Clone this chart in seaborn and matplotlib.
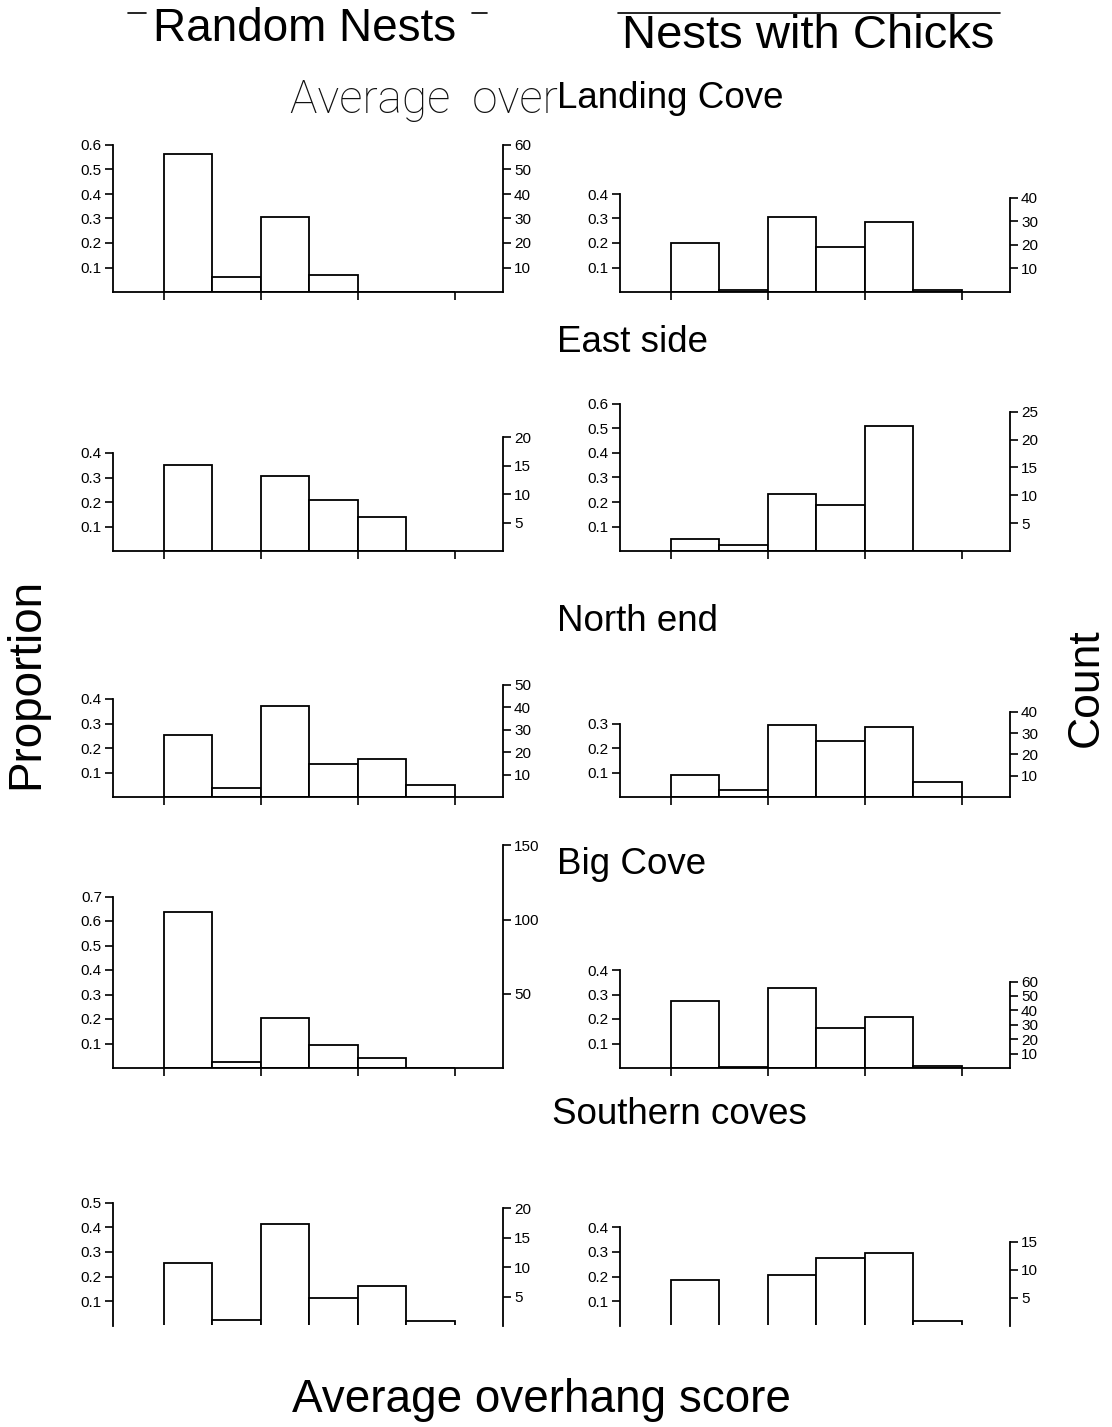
import numpy as np
import pandas as pd
import seaborn as sns
import matplotlib
matplotlib.use("Agg")
import matplotlib.pyplot as plt
from matplotlib.lines import Line2D

# overhang score classes (6 bins, ticks every 2 bins, unlabelled)
score_bins = ["1", "2", "3", "4", "5", "6"]

regions = ["Landing Cove", "East side", "North end", "Big Cove", "Southern coves"]

# proportions
landing_random = [0.565, 0.06, 0.305, 0.07, 0.0, 0.0]
landing_chicks = [0.20, 0.01, 0.305, 0.185, 0.285, 0.01]
east_random = [0.35, 0.0, 0.305, 0.21, 0.14, 0.0]
east_chicks = [0.047, 0.023, 0.233, 0.186, 0.51, 0.0]
north_random = [0.255, 0.035, 0.37, 0.135, 0.155, 0.05]
north_chicks = [0.09, 0.03, 0.295, 0.23, 0.285, 0.06]
big_random = [0.635, 0.025, 0.205, 0.095, 0.04, 0.0]
big_chicks = [0.275, 0.005, 0.325, 0.165, 0.21, 0.01]
south_random = [0.255, 0.025, 0.415, 0.115, 0.16, 0.02]
south_chicks = [0.185, 0.0, 0.205, 0.275, 0.295, 0.02]

# approx. number of nests per panel (scales the Count axis)
n_random = [100, 43, 109, 165, 42]
n_chicks = [104, 44, 115, 170, 44]

# axis tops: proportion top, count top, count step
prop_top_random = [0.6, 0.4, 0.4, 0.7, 0.5]
prop_top_chicks = [0.4, 0.6, 0.3, 0.4, 0.4]
count_top_random = [60, 20, 50, 150, 20]
count_top_chicks = [40, 25, 40, 60, 15]
count_step_random = [10, 5, 10, 50, 5]
count_step_chicks = [10, 5, 10, 10, 5]

random_rows = [landing_random, east_random, north_random, big_random, south_random]
chick_rows = [landing_chicks, east_chicks, north_chicks, big_chicks, south_chicks]

sns.set_style("ticks")
plt.rcParams["font.family"] = ["Liberation Sans", "DejaVu Sans"]
plt.rcParams.update({"text.color": "black", "axes.edgecolor": "black",
                     "xtick.color": "black", "ytick.color": "black",
                     "axes.labelcolor": "black"})

W, H = 1112, 1427
fig = plt.figure(figsize=(W / 100, H / 100), dpi=100)

PX = 245.0  # pixels per 1.0 proportion
baselines = [292, 551, 797, 1068, 1325]
col_x = [113, 620]
panel_w = 390


def draw_panel(x0, base, props, n, ptop, ctop, cstep, last):
    top_units = max(ptop, ctop / n) + 0.02
    h = top_units * PX
    ax = fig.add_axes([x0 / W, 1 - base / H, panel_w / W, h / H])
    df = pd.DataFrame({"score": score_bins, "prop": props})
    sns.barplot(data=df, x="score", y="prop", ax=ax, width=1.0, color="white",
                edgecolor="black", linewidth=1.3, saturation=1)
    ax.set_xlim(-1.55, 6.5)
    ax.set_ylim(0.004 if last else 0, top_units)
    ax.set_xlabel("")
    ax.set_ylabel("")
    ax.set_facecolor("none")
    ax.spines["top"].set_visible(False)
    ax.spines["right"].set_visible(False)
    ax.spines["left"].set_bounds(0, ptop)
    ax.set_yticks(np.round(np.arange(0.1, ptop + 0.001, 0.1), 1))
    ax.set_yticklabels([f"{v:.1f}" for v in np.arange(0.1, ptop + 0.001, 0.1)])
    if last:
        ax.spines["bottom"].set_visible(False)
        ax.set_xticks([])
    else:
        ax.set_xticks([-0.5, 1.5, 3.5, 5.5])
        ax.set_xticklabels([])
    ax.tick_params(axis="both", direction="out", length=6, width=1.2, labelsize=11, pad=2)
    for s in ["left", "bottom"]:
        ax.spines[s].set_linewidth(1.3)

    ax2 = ax.twinx()
    ax2.set_ylim(ax.get_ylim()[0] * n, top_units * n)
    for s in ["top", "left", "bottom"]:
        ax2.spines[s].set_visible(False)
    ax2.spines["right"].set_bounds(0, ctop)
    ax2.spines["right"].set_linewidth(1.3)
    ax2.set_yticks(np.arange(cstep, ctop + 1, cstep))
    ax2.tick_params(axis="y", direction="out", length=6, width=1.2, labelsize=11, pad=2)
    return ax


for i in range(5):
    last = i == 4
    draw_panel(col_x[0], baselines[i], random_rows[i], n_random[i],
               prop_top_random[i], count_top_random[i], count_step_random[i], last)
    draw_panel(col_x[1], baselines[i], chick_rows[i], n_chicks[i],
               prop_top_chicks[i], count_top_chicks[i], count_step_chicks[i], last)


def ftext(x, y, s, **kw):
    fig.text(x / W, 1 - y / H, s, **kw)


ftext(305, 29, "Random Nests", fontsize=33, ha="center", va="center")
ftext(808, 36, "Nests with Chicks", fontsize=34, ha="center", va="center")

# scan leftovers above the column titles
for (xa, xb) in [(128, 146), (472, 487), (618, 1000)]:
    fig.add_artist(Line2D([xa / W, xb / W], [1 - 13 / H, 1 - 13 / H],
                          transform=fig.transFigure, color="black", lw=1.2))

ftext(558, 100, "Average  over", fontsize=33, ha="right", va="center",
      family=["Roboto", "DejaVu Sans"], fontweight="light", color="#111111")
region_y = [99, 343, 622, 865, 1115]
for name, y in zip(regions, region_y):
    ftext(557 if name != "Southern coves" else 552, y, name, fontsize=26.5,
          ha="left", va="center")

ftext(26, 683, "Proportion", fontsize=33, rotation=90, ha="center", va="center")
ftext(1086, 688, "Count", fontsize=32, rotation=90, ha="center", va="center")
ftext(541, 1400, "Average overhang score", fontsize=33, ha="center", va="center")

fig.savefig("out.png", dpi=100, facecolor="white")
